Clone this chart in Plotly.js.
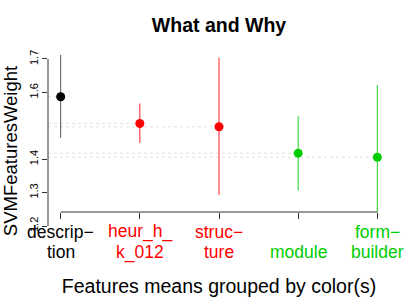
<!DOCTYPE html>
<html>
<head>
<meta charset="utf-8">
<script src="https://cdn.plot.ly/plotly-3.0.1.min.js"></script>
<style>html,body{margin:0;padding:0;background:#fff;}#chart{width:415px;height:297px;}</style>
</head>
<body>
<div id="chart"></div>
<script>
// Data
const categories = ["description", "heur_h_k_012", "structure", "module", "form-builder"];
const labelLine1 = ["descrip\u2212", "heur_h_", "struc\u2212", "", "form\u2212"];
const labelLine2 = ["tion", "k_012", "ture", "module", "builder"];
const means = [1.587, 1.507, 1.497, 1.418, 1.406];
const upper = [1.712, 1.567, 1.704, 1.529, 1.622];
const lower = [1.464, 1.449, 1.293, 1.306, 1.242];
const pointColors = ["#000000", "#FF0000", "#FF0000", "#00CD00", "#00CD00"];
const barColors = ["#555555", "#FF2020", "#FF2020", "#20D020", "#20D020"];
const labelColors = ["#000000", "#FF0000", "#FF0000", "#00CD00", "#00CD00"];
const yTickVals = [1.2, 1.3, 1.4, 1.6, 1.7];

const xs = categories.map((c, i) => i + 1);
const FONT = "Liberation Sans, Arial, Helvetica, sans-serif";

const traces = categories.map((c, i) => ({
  type: "scatter",
  mode: "markers",
  x: [xs[i]],
  y: [means[i]],
  marker: {color: pointColors[i], size: 9, line: {width: 0}},
  error_y: {
    type: "data", symmetric: false,
    array: [upper[i] - means[i]],
    arrayminus: [means[i] - lower[i]],
    color: barColors[i], thickness: 1, width: 0
  },
  showlegend: false,
  hoverinfo: "skip"
}));

const shapes = [];
// dotted guide lines from the y axis to each mean
categories.forEach((c, i) => {
  shapes.push({type: "line", xref: "x", yref: "y", x0: 0.84, x1: xs[i], y0: means[i], y1: means[i],
    line: {color: "#e2e2e2", width: 1, dash: "dot"}, layer: "below"});
});
// y axis line from first to last tick
shapes.push({type: "line", xref: "paper", yref: "y", x0: 0, x1: 0,
  y0: yTickVals[0], y1: yTickVals[yTickVals.length - 1], line: {color: "#333", width: 1}});
// x axis line from first to last category
const xAxisPos = 0.198;
shapes.push({type: "line", xref: "x", yref: "paper", x0: xs[0], x1: xs[xs.length - 1],
  y0: xAxisPos, y1: xAxisPos, line: {color: "#333", width: 1}});

const annotations = [];
categories.forEach((c, i) => {
  if (labelLine1[i]) annotations.push({xref: "x", yref: "paper", x: xs[i], y: 0.1005,
    text: labelLine1[i], showarrow: false, xanchor: "center", yanchor: "middle",
    font: {family: FONT, size: 17.5, color: labelColors[i]}});
  annotations.push({xref: "x", yref: "paper", x: xs[i], y: -0.0015,
    text: labelLine2[i], showarrow: false, xanchor: "center", yanchor: "middle",
    font: {family: FONT, size: 17.5, color: labelColors[i]}});
});

const layout = {
  width: 415, height: 297,
  margin: {l: 48, r: 25, t: 50, b: 45, pad: 0},
  paper_bgcolor: "#fff", plot_bgcolor: "#fff",
  font: {family: FONT, color: "#000"},
  title: {text: "<b>What and Why</b>", font: {family: FONT, size: 19.5, color: "#000"},
    x: 0.5, xref: "paper", y: 1 - 25 / 297, yref: "container", yanchor: "middle", xanchor: "center"},
  xaxis: {
    range: [0.84, 5.16], anchor: "free", position: xAxisPos,
    tickvals: xs, ticktext: categories, showticklabels: false,
    ticks: "outside", ticklen: 6, tickcolor: "#333", tickwidth: 1,
    showgrid: false, zeroline: false, showline: false,
    title: {text: "Features means grouped by color(s)", font: {family: FONT, size: 19.5, color: "#000"}, standoff: 61}
  },
  yaxis: {
    range: [1.1222, 1.7269],
    tickvals: yTickVals, ticktext: yTickVals.map(v => v.toFixed(1)),
    ticks: "outside", ticklen: 5, tickcolor: "#333", tickwidth: 1,
    tickangle: -90, tickfont: {family: FONT, size: 11, color: "#000"},
    showgrid: false, zeroline: false, showline: false,
    title: {text: "SVMFeaturesWeight", font: {family: FONT, size: 18.5, color: "#000"}, standoff: 6}
  },
  shapes: shapes,
  annotations: annotations
};

Plotly.newPlot("chart", traces, layout, {staticPlot: true, displayModeBar: false});
</script>
</body>
</html>
